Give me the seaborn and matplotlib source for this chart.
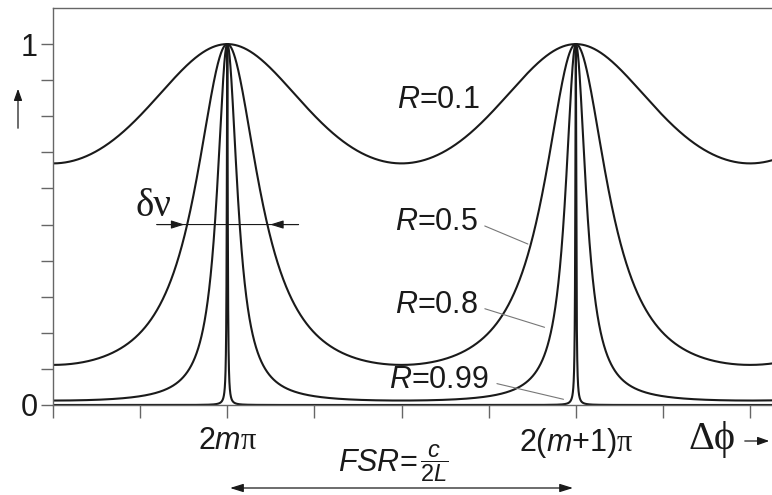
import numpy as np
import pandas as pd
import seaborn as sns
import matplotlib.pyplot as plt

# mirror reflectivity of each curve (Airy transmission of a Fabry-Perot cavity)
reflectivity = [0.1, 0.5, 0.8, 0.99]
curve_labels = ["$R$=0.1", "$R$=0.5", "$R$=0.8", "$R$=0.99"]

# phase axis in units of pi, peaks at 2m*pi (0) and 2(m+1)*pi (2)
x_ticks = [-1, -0.5, 0, 0.5, 1, 1.5, 2, 2.5, 3]
x_ticklabels = ["", "", r"2$m\mathsf{\pi}$", "", "", "",
                r"2$\mathit{(m{+}1)}\mathsf{\pi}$", "", ""]
y_ticks = [0, 0.1, 0.2, 0.3, 0.4, 0.5, 0.6, 0.7, 0.8, 0.9, 1.0]
y_ticklabels = ["0", "", "", "", "", "", "", "", "", "", "1"]

# label anchors (x in pi units, y) and leader-line ends
label_pos = [(0.975, 0.845), (0.964, 0.507), (0.964, 0.277), (0.93, 0.069)]
leader_start = [None, (1.463, 0.499), (1.463, 0.269), (1.532, 0.061)]
leader_end = [None, (1.74, 0.443), (1.836, 0.213), (1.945, 0.014)]

sns.set_style("ticks")
plt.rcParams['font.family'] = ['Liberation Sans', 'DejaVu Sans']
plt.rcParams['mathtext.fontset'] = 'custom'
plt.rcParams['mathtext.it'] = 'Liberation Sans:italic'
plt.rcParams['mathtext.rm'] = 'Liberation Sans'
plt.rcParams['mathtext.sf'] = 'Liberation Serif'

ink = "#1a1a1a"
serif = ["Liberation Serif", "DejaVu Serif"]

# build the curves
phase = np.linspace(-1, 3.13, 40001)
rows = []
for r, lab in zip(reflectivity, curve_labels):
    F = 4 * r / (1 - r) ** 2
    T = 1.0 / (1.0 + F * np.sin(np.pi * phase / 2) ** 2)
    rows.append(pd.DataFrame({"phase": phase, "T": T, "R": lab}))
df = pd.concat(rows, ignore_index=True)

fig = plt.figure(figsize=(7.72, 4.95), dpi=100)
ax = fig.add_axes([53 / 772, 90 / 495, 1 - 53 / 772, 397 / 495])

sns.lineplot(data=df, x="phase", y="T", hue="R", palette=[ink] * 4,
             linewidth=1.5, legend=False, ax=ax, estimator=None, sort=False)

ax.set_xlim(-1, 3.126)
ax.set_ylim(0, 1.1)
ax.set_xlabel("")
ax.set_ylabel("")
ax.set_xticks(x_ticks)
ax.set_xticklabels(x_ticklabels)
ax.set_yticks(y_ticks)
ax.set_yticklabels(y_ticklabels)
ax.tick_params(axis="both", direction="out", length=9, width=1,
               color="#666666", labelsize=22, labelcolor=ink)
ax.tick_params(axis="x", pad=6)
ax.tick_params(axis="y", pad=2)

for side in ["left", "bottom", "top"]:
    ax.spines[side].set_color("#666666")
    ax.spines[side].set_linewidth(1)
ax.spines["right"].set_visible(False)

# curve labels with leader lines
for lab, pos, s, e in zip(curve_labels, label_pos, leader_start, leader_end):
    ax.text(pos[0], pos[1], lab, fontsize=22, ha="left", va="center", color=ink)
    if s is not None:
        ax.annotate("", xy=e, xytext=s,
                    arrowprops=dict(arrowstyle="-", color="#777777", lw=0.8))

# linewidth marker for R=0.5 (half maximum)
half_w = 2 / np.pi * np.arcsin(np.sqrt(1 / (4 * 0.5 / (1 - 0.5) ** 2)))
ax.annotate("", xy=(0.425, 0.5), xytext=(-0.42, 0.5),
            arrowprops=dict(arrowstyle="-", color=ink, lw=0.8))
ax.annotate("", xy=(-half_w, 0.5), xytext=(-0.42, 0.5),
            arrowprops=dict(arrowstyle="-|>,head_length=0.8,head_width=0.25",
                            color=ink, lw=0.8))
ax.annotate("", xy=(half_w, 0.5), xytext=(0.425, 0.5),
            arrowprops=dict(arrowstyle="-|>,head_length=0.8,head_width=0.25",
                            color=ink, lw=0.8))
ax.text(-0.527, 0.55, "δν", fontsize=28, family=serif,
        ha="left", va="center", color=ink)

# axis arrows and labels outside the plot
ax.annotate("", xy=(18, 495 - 86), xytext=(18, 495 - 131), xycoords="figure pixels",
            textcoords="figure pixels",
            arrowprops=dict(arrowstyle="-|>,head_length=0.7,head_width=0.25",
                            color=ink, lw=0.9))
fig.text(688 / 772, 1 - 440 / 495, "Δϕ", fontsize=29, family=serif,
         ha="left", va="center", color=ink)
ax.annotate("", xy=(772, 495 - 441), xytext=(742, 495 - 441), xycoords="figure pixels",
            textcoords="figure pixels",
            arrowprops=dict(arrowstyle="-|>,head_length=0.7,head_width=0.25",
                            color=ink, lw=0.9))

# free spectral range
ax.annotate("", xy=(0, 495 - 488), xytext=(2, 495 - 488),
            xycoords=("data", "figure pixels"), textcoords=("data", "figure pixels"),
            arrowprops=dict(arrowstyle="<|-|>,head_length=0.8,head_width=0.25",
                            color=ink, lw=0.9))
fig.text(338 / 772, 1 - 463 / 495, r"$\mathit{FSR}$=",
         fontsize=22, ha="left", va="center", color=ink)
fig.text(420 / 772, 1 - 463 / 495, r"$\dfrac{\mathit{c}}{2\mathit{L}}$",
         fontsize=17, ha="left", va="center", color=ink)

fig.savefig("out.png", dpi=100)
